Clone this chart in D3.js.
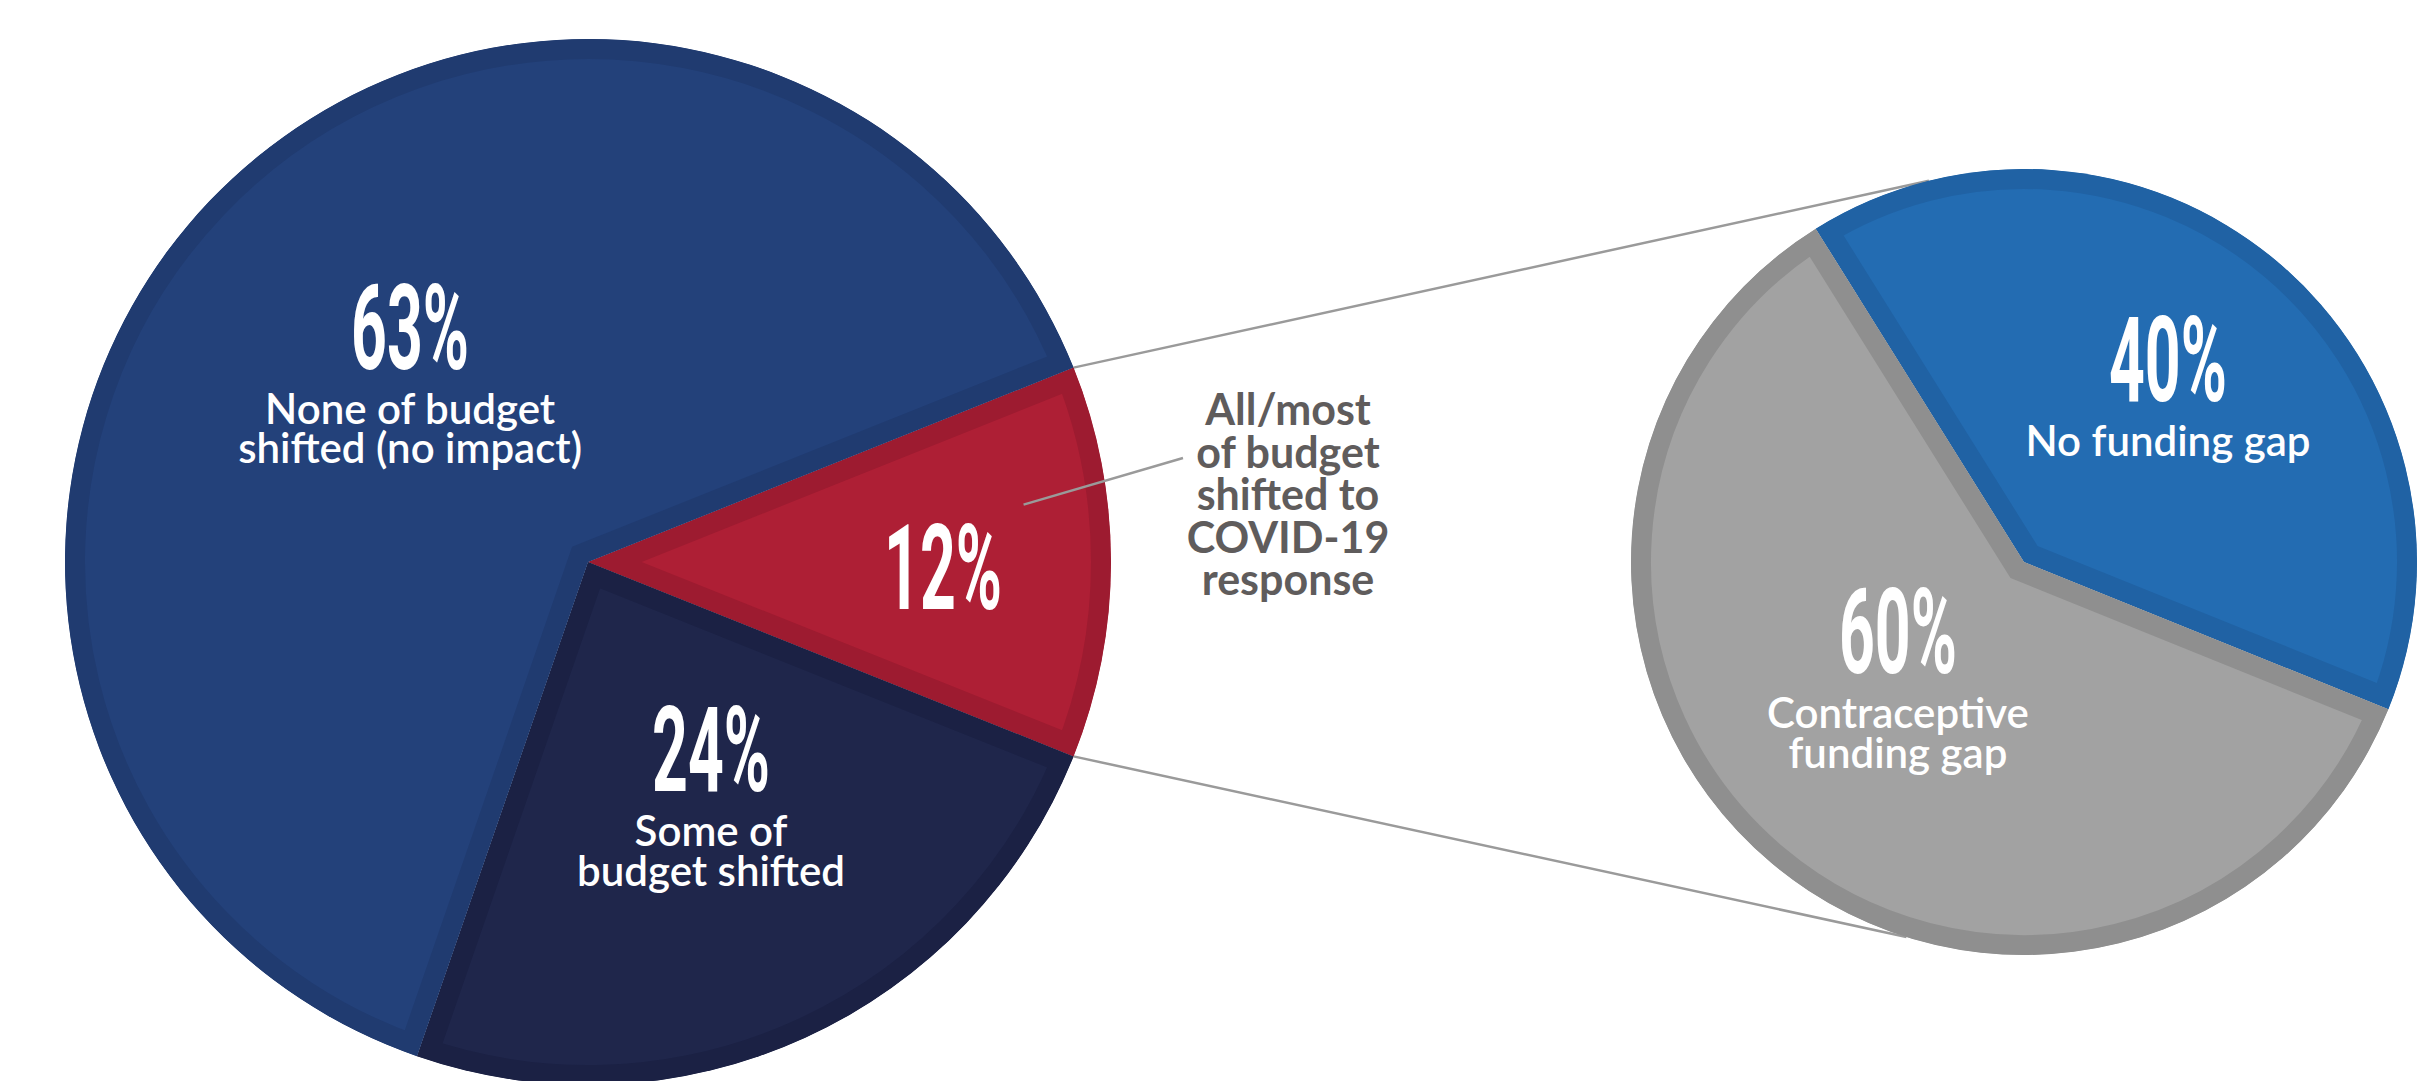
<!DOCTYPE html>
<html lang="en">
<head>
<meta charset="UTF-8">
<title>Budget shifted to COVID-19 response</title>
<script src="https://d3js.org/d3.v7.min.js"></script>
<style>
  body { margin: 0; background: #fff; }
  .pct { font-family: Roboto, sans-serif; font-weight: 700; fill: #fff; }
  .lbl { font-family: Lato, sans-serif; font-weight: 600; fill: #fff; }
  .note { font-family: Lato, sans-serif; font-weight: 700; fill: #5f5c5c; }
  .link { stroke: #9a9a9a; stroke-width: 2.5; fill: none; }
</style>
</head>
<body>
<svg id="chart" width="2429" height="1081"></svg>
<script>
// left pie, clockwise from the red wedge
const budgetCats = ["All/most of budget shifted to COVID-19 response", "Some of budget shifted", "None of budget shifted (no impact)"];
const budgetValues = [12, 24, 63];
const budgetText = [[], ["Some of", "budget shifted"], ["None of budget", "shifted (no impact)"]];
const noteLines = ["All/most", "of budget", "shifted to", "COVID-19", "response"];

// right pie: breakdown of the red wedge
const gapCats = ["No funding gap", "Contraceptive funding gap"];
const gapValues = [40, 60];
const gapText = [["No funding gap"], ["Contraceptive", "funding gap"]];

// [fill, edge]
const budgetColors = [["#ae1f35", "#9d1b30"], ["#1f264b", "#1b2144"], ["#23417a", "#203b70"]];
const gapColors = [["#236cb2", "#2062a4"], ["#a2a2a2", "#8f8f8f"]];

const rad = Math.PI / 180;
const left = { cx: 588, cy: 562, r: 523 };
const right = { cx: 2024, cy: 562, r: 393 };
const edge = 20;       // width of the darker rim inside each slice
const pctSize = 118, pctCap = 77, lineH = 39.5, lblSize = 42;

const svg = d3.select("#chart");
const defs = svg.append("defs");

const redHalf = Math.PI * budgetValues[0] / d3.sum(budgetValues);
const leftArcs = d3.pie().sort(null)
    .startAngle(90 * rad - redHalf)
    .endAngle(90 * rad - redHalf + 2 * Math.PI)(budgetValues);
const rightArcs = d3.pie().sort(null)
    .startAngle(-32 * rad).endAngle(-32 * rad + 2 * Math.PI)(gapValues);

function pt(c, a, r) {
    const p = d3.pointRadial(a, r);
    return [c.cx + p[0], c.cy + p[1]];
}

// connector lines from the red wedge to the second pie (behind the pies)
const links = [
    [pt(left, leftArcs[0].startAngle, left.r), pt(right, -14 * rad, right.r)],
    [pt(left, leftArcs[0].endAngle, left.r), pt(right, 197.4 * rad, right.r)]
];
svg.selectAll(".link").data(links).enter().append("path")
    .attr("class", "link")
    .attr("d", d => d3.line()(d));

// labelPos: [radius as share of r, angle nudge in degrees]
function drawPie(arcs, c, colors, texts, labelPos, id) {
    const g = svg.append("g").attr("transform", `translate(${c.cx},${c.cy})`);
    const arc = d3.arc().innerRadius(0).outerRadius(c.r);

    defs.selectAll(null).data(arcs).enter().append("clipPath")
        .attr("id", (d, i) => `${id}${i}`)
        .append("path").attr("d", arc);

    g.selectAll("path.slice").data(arcs).enter().append("path")
        .attr("class", "slice")
        .attr("d", arc)
        .attr("fill", (d, i) => colors[i][0])
        .attr("stroke", (d, i) => colors[i][1])
        .attr("stroke-width", edge * 2)
        .attr("clip-path", (d, i) => `url(#${id}${i})`);

    arcs.forEach((d, i) => {
        const mid = (d.startAngle + d.endAngle) / 2 + labelPos[i][1] * rad;
        const [x, y] = d3.pointRadial(mid, c.r * labelPos[i][0]);
        const lines = texts[i];
        const h = pctCap + (lines.length ? 55 + (lines.length - 1) * lineH : 0);
        const base = y - h / 2 + pctCap;

        g.append("text").attr("class", "pct")
            .attr("transform", `translate(${x},${base}) scale(0.53,1)`)
            .attr("text-anchor", "middle")
            .attr("font-size", pctSize)
            .text(d.value + "%");

        if (!lines.length) return;
        g.append("text").attr("class", "lbl")
            .attr("x", x)
            .attr("y", base + 55)
            .attr("text-anchor", "middle")
            .attr("font-size", lblSize)
            .selectAll("tspan").data(lines).enter().append("tspan")
            .attr("x", x)
            .attr("dy", (t, j) => j ? lineH : 0)
            .text(t => t);
    });
}

drawPie(leftArcs, left, budgetColors, budgetText, [[0.679, 1.3], [0.512, -2.8], [0.49, 2.4]], "lc");
drawPie(rightArcs, right, gapColors, gapText, [[0.57, 0], [0.443, 6.4]], "rc");

// callout for the red wedge
const noteX = left.cx + left.r + 177;
svg.append("path").attr("class", "link")
    .attr("stroke-width", 2)
    .attr("d", d3.line()([pt(left, 82.5 * rad, left.r * 0.84), [left.cx + left.r + 72, left.cy - 104]]));

svg.append("text")
    .attr("class", "note")
    .attr("x", noteX)
    .attr("y", 425)
    .attr("text-anchor", "middle")
    .attr("font-size", 43)
    .selectAll("tspan").data(noteLines).enter().append("tspan")
    .attr("x", noteX)
    .attr("dy", (t, i) => i ? 42.5 : 0)
    .text(t => t);
</script>
</body>
</html>
